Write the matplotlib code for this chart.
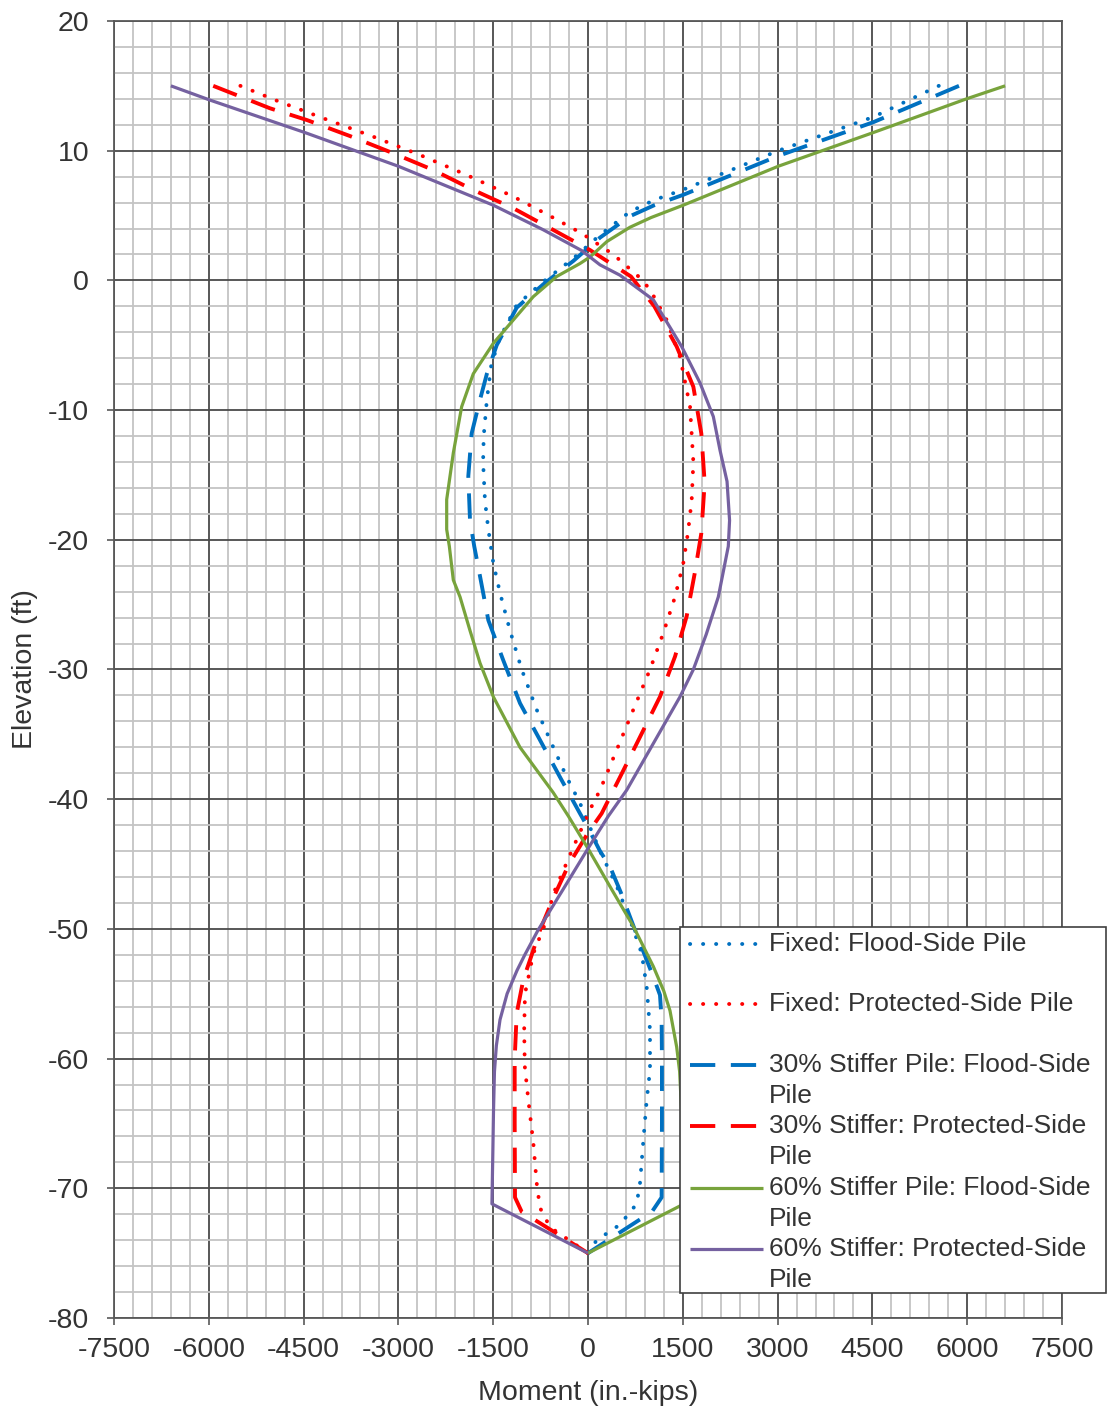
import matplotlib
matplotlib.use("Agg")
import matplotlib.pyplot as plt
from matplotlib.lines import Line2D
from matplotlib.patches import Rectangle
from matplotlib.ticker import MultipleLocator

plt.rcParams['font.family'] = ['Liberation Sans', 'DejaVu Sans']
plt.rcParams['axes.unicode_minus'] = False

# ---- bending moment profiles (moment in in.-kips, elevation in ft) ----
fixed_flood_m = [5550, 4515, 3011, 1508, 1050, 665, 190, -232, -707, -1128, -1400,
                 -1530, -1600, -1650, -1660, -1630, -1577, -1498, -1392, -1234, -1049,
                 -812, -549, -337, -127, 0, 190, 454, 665, 850, 929, 981, 981, 929,
                 876, 823, 770, 506, 137, 0]
fixed_flood_el = [15, 12.6, 10.0, 7.0, 6.2, 5.3, 3.5, 1.7, -0.1, -1.9, -4.5,
                  -6.5, -9.2, -12.0, -14.0, -17.0, -19.2, -21.8, -24.1, -27.0, -30.0,
                  -33.1, -36.0, -38.3, -40.3, -41.8, -44.0, -46.7, -49.3, -51.9, -54.5,
                  -57.8, -60.9, -63.2, -66.3, -69.6, -71.2, -72.8, -74.0, -75]

fixed_prot_m = [-5500, -4926, -4188, -3397, -2658, -1920, -1181, -628, -100, 400,
                823, 981, 1245, 1456, 1614, 1667, 1640, 1580, 1508, 1377, 1191, 981,
                717, 454, 190, 32, -232, -390, -549, -654, -865, -997, -1010, -1000,
                -944, -865, -812, -760, -600, 0]
fixed_prot_el = [15, 13.86, 12.5, 11.08, 9.67, 8.13, 6.46, 5.04, 3.63, 2.0,
                 0.2, -0.7, -3.05, -5.9, -9.7, -14.0, -17.0, -19.5, -21.8, -24.4,
                 -27.2, -30.0, -33.1, -36.2, -39.3, -40.8, -43.7, -45.5, -47.3, -49.3,
                 -51.9, -55.0, -57.8, -60.6, -63.2, -66.5, -69.6, -71.5, -73.0, -75]

stiff30_flood_m = [5870, 4515, 3011, 1508, 1050, 665, 190, -232, -707, -1128, -1445,
                   -1600, -1709, -1841, -1894, -1867, -1800, -1709, -1577, -1340, -1076,
                   -786, -443, -127, 0, 190, 348, 520, 775, 1034, 1139, 1165, 1170,
                   1170, 1165, 1013, 0]
stiff30_flood_el = [15, 12.2, 9.6, 6.6, 5.8, 4.95, 3.3, 1.5, -0.3, -2.1, -5.0,
                    -7.2, -9.2, -11.8, -15.1, -18.5, -20.5, -22.8, -26.2, -29.3, -32.6,
                    -35.2, -38.3, -41.1, -42.2, -44.0, -45.2, -47.2, -50.5, -53.7, -55.1,
                    -57.0, -60.0, -65.0, -70.7, -71.8, -75]

stiff30_prot_m = [-5930, -5032, -4451, -3766, -3080, -2447, -1814, -1181, -549, 32,
                  680, 1050, 1403, 1667, 1793, 1846, 1793, 1688, 1561, 1377, 1139, 823,
                  506, 216, 0, -300, -520, -760, -918, -1023, -1128, -1160, -1160,
                  -1155, -1050, 0]
stiff30_prot_el = [15, 13.27, 12.37, 11.13, 9.8, 8.51, 6.97, 5.56, 3.89, 2.34,
                   0.3, -2.0, -5.1, -8.2, -11.8, -15.6, -19.5, -22.6, -25.9, -29.0,
                   -32.1, -35.2, -38.3, -41.1, -42.6, -45.0, -47.3, -50.1, -52.4, -53.9,
                   -56.5, -60.0, -65.0, -70.7, -71.8, -75]

stiff60_flood_m = [6600, 5990, 4515, 3010, 1508, 1000, 665, 300, 30, -127, -496,
                   -865, -1498, -1815, -1999, -2131, -2236, -2236, -2194, -2131, -2025,
                   -1867, -1709, -1498, -1076, -549, -311, 0, 380, 717, 1034, 1200,
                   1297, 1403, 1450, 1480, 1500, 1520, 0]
stiff60_flood_el = [15, 14.0, 11.4, 8.8, 5.8, 4.85, 4.1, 3.0, 1.8, 1.3, 0.3,
                    -1.25, -4.85, -7.2, -9.74, -13.3, -16.9, -19.2, -20.5, -23.1, -24.4,
                    -27.0, -29.5, -32.1, -36.0, -39.5, -41.3, -43.8, -47.0, -49.8, -52.9,
                    -54.8, -56.3, -59.1, -61.0, -64.0, -67.0, -71.2, -75]

stiff60_prot_m = [-6600, -5980, -4480, -3000, -1500, -707, -100, 190, 506, 1034,
                  1482, 1772, 1983, 2089, 2200, 2240, 2220, 2062, 1870, 1667, 1456,
                  1034, 612, 322, 0, -400, -791, -1000, -1123, -1280, -1392, -1450,
                  -1480, -1495, -1505, -1520, 0]
stiff60_prot_el = [15, 13.9, 11.4, 8.8, 5.8, 3.9, 2.3, 1.2, 0.4, -1.5,
                   -5.1, -7.9, -10.5, -13.1, -15.5, -18.5, -20.5, -24.4, -27.3, -30.0,
                   -32.1, -35.7, -39.3, -41.3, -43.8, -47.0, -50.1, -52.0, -53.2, -55.0,
                   -57.0, -59.0, -61.0, -64.0, -67.0, -71.2, -75]

x_ticks = [-7500, -6000, -4500, -3000, -1500, 0, 1500, 3000, 4500, 6000, 7500]
y_ticks = [20, 10, 0, -10, -20, -30, -40, -50, -60, -70, -80]

series_labels = [
    ["Fixed: Flood-Side Pile"],
    ["Fixed: Protected-Side Pile"],
    ["30% Stiffer Pile: Flood-Side", "Pile"],
    ["30% Stiffer: Protected-Side", "Pile"],
    ["60% Stiffer Pile: Flood-Side", "Pile"],
    ["60% Stiffer: Protected-Side", "Pile"],
]

BLUE = '#0070C0'
RED = '#FF0000'
GREEN = '#78A33C'
PURPLE = '#7561A0'
TEXT = '#333333'

dot_style = dict(linestyle=(0, (0.05, 3.3)), linewidth=2.8, dash_capstyle='round')
dash_style = dict(linestyle=(0, (6.5, 4.0)), linewidth=2.8, dash_capstyle='butt')
solid_style = dict(linestyle='-', linewidth=2.3, solid_capstyle='butt',
                   solid_joinstyle='round')

styles = [
    dict(color=BLUE, **dot_style),
    dict(color=RED, **dot_style),
    dict(color=BLUE, **dash_style),
    dict(color=RED, **dash_style),
    dict(color=GREEN, **solid_style),
    dict(color=PURPLE, **solid_style),
]
data = [
    (fixed_flood_m, fixed_flood_el),
    (fixed_prot_m, fixed_prot_el),
    (stiff30_flood_m, stiff30_flood_el),
    (stiff30_prot_m, stiff30_prot_el),
    (stiff60_flood_m, stiff60_flood_el),
    (stiff60_prot_m, stiff60_prot_el),
]

W, H = 1108, 1416
fig = plt.figure(figsize=(W / 100, H / 100), dpi=100)
ax_l, ax_r, ax_t, ax_b = 114, 1062, 21, 1318
ax = fig.add_axes([ax_l / W, 1 - ax_b / H, (ax_r - ax_l) / W, (ax_b - ax_t) / H])

ax.set_xlim(-7500, 7500)
ax.set_ylim(-80, 20)
ax.xaxis.set_minor_locator(MultipleLocator(300))
ax.yaxis.set_minor_locator(MultipleLocator(2))
ax.set_xticks(x_ticks)
ax.set_yticks(y_ticks)
ax.set_xticklabels([str(v) for v in x_ticks])
ax.set_yticklabels([str(v) for v in y_ticks])

ax.grid(which='minor', color='#c4c4c4', linewidth=1.3)
ax.grid(which='major', color='#4a4a4a', linewidth=1.3)
ax.set_axisbelow(True)
for sp in ax.spines.values():
    sp.set_color('#595959')
    sp.set_linewidth(1.3)

ax.tick_params(axis='both', which='minor', length=0)
ax.tick_params(axis='x', which='major', direction='out', length=5, width=1.2,
               color='#595959', labelsize=20.5, labelcolor=TEXT, pad=9)
ax.tick_params(axis='y', which='major', direction='out', length=5, width=1.2,
               color='#595959', labelsize=20.5, labelcolor=TEXT, pad=13)

for (m, el), st in zip(data, styles):
    ax.plot(m, el, **st, zorder=3)

ax.set_xlabel("Moment (in.-kips)", fontsize=20.5, color=TEXT)
ax.set_ylabel("Elevation (ft)", fontsize=20.5, color=TEXT)
ax.xaxis.set_label_coords(0.5, (ax_b - 1393) / (ax_b - ax_t))
ax.xaxis.label.set_va('center')
ax.yaxis.set_label_coords((25 - ax_l) / (ax_r - ax_l), 0.5)
ax.yaxis.label.set_va('center')

# ---- legend box drawn in figure pixel space ----
def fx(px):
    return px / W


def fy(py):
    return 1 - py / H

box_l, box_t, box_r, box_b = 680, 927, 1106, 1293
fig.add_artist(Rectangle((fx(box_l), fy(box_b)), fx(box_r) - fx(box_l), fy(box_t) - fy(box_b),
                         transform=fig.transFigure, facecolor='white',
                         edgecolor='#404040', linewidth=1.2, zorder=5))
row_y = [944, 1004, 1065, 1126, 1188, 1249]
line_gap = 31
for lines, st, yy in zip(series_labels, styles, row_y):
    fig.add_artist(Line2D([fx(690), fx(763)], [fy(yy), fy(yy)], transform=fig.transFigure,
                          zorder=6, **st))
    for k, txt in enumerate(lines):
        fig.text(fx(769), fy(yy + k * line_gap), txt, fontsize=19, color=TEXT,
                 ha='left', va='center', zorder=7)

fig.savefig("out.png", dpi=100)
